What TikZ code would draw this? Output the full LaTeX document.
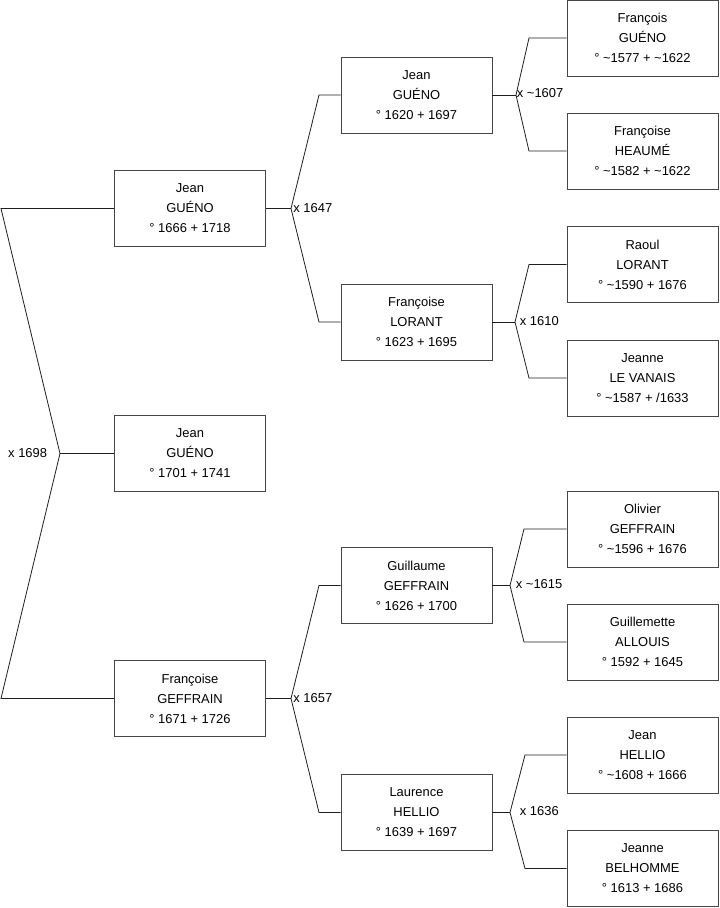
\documentclass[tikz,border=0pt]{standalone}
\usepackage{fontspec}
\setmainfont{Liberation Sans}
\usepackage{xcolor}
\usepackage{tikz}
\definecolor{boxline}{RGB}{70,70,70}
\definecolor{linkline}{RGB}{30,30,30}

\begin{document}
\begin{tikzpicture}[x=0.75pt,y=-0.75pt,
    person/.style={draw=boxline,line width=0.7pt,minimum width=113.25pt,
      minimum height=57pt,inner sep=0pt,align=center,
      font=\fontsize{9.7}{15}\selectfont},
    union/.style={inner sep=0.5pt,font=\fontsize{9.7}{12}\selectfont},
    link/.style={draw=linkline,line width=0.6pt}]
    \useasboundingbox (0,0) rectangle (719,908);
    % Generation 1
    \node[person] (p1) at (190,453.5) {Jean\\GUÉNO\\° 1701 + 1741};
    % Generation 2
    \node[person] (p2) at (190,208.5) {Jean\\GUÉNO\\° 1666 + 1718};
    \node[person] (p3) at (190,698.5) {Françoise\\GEFFRAIN\\° 1671 + 1726};
    % Generation 3
    \node[person] (p4) at (416.5,95) {Jean\\GUÉNO\\° 1620 + 1697};
    \node[person] (p5) at (416.5,322) {Françoise\\LORANT\\° 1623 + 1695};
    \node[person] (p6) at (416.5,585.5) {Guillaume\\GEFFRAIN\\° 1626 + 1700};
    \node[person] (p7) at (416.5,812.5) {Laurence\\HELLIO\\° 1639 + 1697};
    % Generation 4
    \node[person] (p8) at (642.5,38) {François\\GUÉNO\\° \textasciitilde1577 + \textasciitilde1622};
    \node[person] (p9) at (642.5,151) {Françoise\\HEAUMÉ\\° \textasciitilde1582 + \textasciitilde1622};
    \node[person] (p10) at (642.5,264.5) {Raoul\\LORANT\\° \textasciitilde1590 + 1676};
    \node[person] (p11) at (642.5,378) {Jeanne\\LE VANAIS\\° \textasciitilde1587 + /1633};
    \node[person] (p12) at (642.5,529) {Olivier\\GEFFRAIN\\° \textasciitilde1596 + 1676};
    \node[person] (p13) at (642.5,642) {Guillemette\\ALLOUIS\\° 1592 + 1645};
    \node[person] (p14) at (642.5,755) {Jean\\HELLIO\\° \textasciitilde1608 + 1666};
    \node[person] (p15) at (642.5,868.5) {Jeanne\\BELHOMME\\° 1613 + 1686};
    % Marriage points and bracket corners
    \coordinate (m1) at (60,453.5);
    \coordinate (m2) at (291,208.5);
    \coordinate (m3) at (291,698.5);
    \coordinate (m4) at (516,95);
    \coordinate (m5) at (515,322);
    \coordinate (m6) at (510,585.5);
    \coordinate (m7) at (510,812.5);
    \coordinate (k1) at (1,0);
    \coordinate (k2) at (319,0);
    \coordinate (k3) at (319,0);
    \coordinate (k4) at (529,0);
    \coordinate (k5) at (529,0);
    \coordinate (k6) at (524,0);
    \coordinate (k7) at (525,0);
    % Brackets
    \draw[link] (p2.west) -- (p2.west -| k1) -- (m1) -- (p3.west -| k1) -- (p3.west);
    \draw[link] (p1.west) -- (m1);
    \draw[link] (p4.west) -- (p4.west -| k2) -- (m2) -- (p5.west -| k2) -- (p5.west);
    \draw[link] (p2.east) -- (m2);
    \draw[link] (p6.west) -- (p6.west -| k3) -- (m3) -- (p7.west -| k3) -- (p7.west);
    \draw[link] (p3.east) -- (m3);
    \draw[link] (p8.west) -- (p8.west -| k4) -- (m4) -- (p9.west -| k4) -- (p9.west);
    \draw[link] (p4.east) -- (m4);
    \draw[link] (p10.west) -- (p10.west -| k5) -- (m5) -- (p11.west -| k5) -- (p11.west);
    \draw[link] (p5.east) -- (m5);
    \draw[link] (p12.west) -- (p12.west -| k6) -- (m6) -- (p13.west -| k6) -- (p13.west);
    \draw[link] (p6.east) -- (m6);
    \draw[link] (p14.west) -- (p14.west -| k7) -- (m7) -- (p15.west -| k7) -- (p15.west);
    \draw[link] (p7.east) -- (m7);
    % Marriage years
    \node[union,anchor=east] (u1) at (48,453.5) {x 1698};
    \node[union,anchor=west] (u2) at (292.5,208.5) {x 1647};
    \node[union,anchor=west] (u3) at (292.5,698.5) {x 1657};
    \node[union,anchor=west] (u4) at (516,93) {x \textasciitilde1607};
    \node[union,anchor=west] (u5) at (519,321) {x 1610};
    \node[union,anchor=west] (u6) at (515,584) {x \textasciitilde1615};
    \node[union,anchor=west] (u7) at (519,811) {x 1636};
  \end{tikzpicture}
\end{document}
